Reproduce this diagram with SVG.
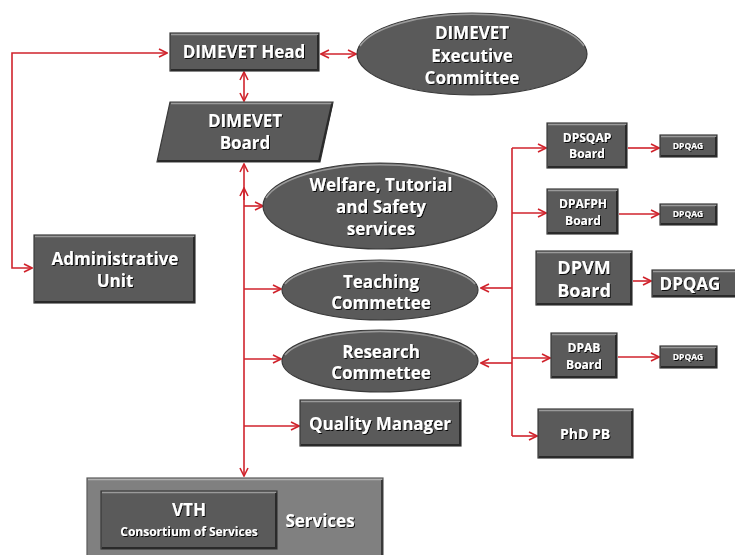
<svg xmlns="http://www.w3.org/2000/svg" width="735" height="555" viewBox="0 0 735 555">
<style>
.box{fill:#5a5a5a;stroke:#3a3a3a;stroke-width:1.2}
.hi{fill:none;stroke:#9a9a9a;stroke-width:1.5}
.lo{fill:none;stroke:#2a2a2a;stroke-width:2}
.t{font-family:"Open Sans","Noto Sans","DejaVu Sans",sans-serif;font-weight:bold;fill:#ffffff;text-anchor:middle;filter:url(#sh)}
.c{fill:none;stroke:#d0232c;stroke-width:1.6}
</style>
<defs>
<filter id="sh" x="-10%" y="-20%" width="130%" height="150%">
<feDropShadow dx="1" dy="1" stdDeviation="0.4" flood-color="#000" flood-opacity="0.9"/>
</filter>
<marker id="a" viewBox="0 0 10 10" refX="9" refY="5" markerWidth="10" markerHeight="10" markerUnits="userSpaceOnUse" orient="auto-start-reverse">
<path d="M1,1 L9,5 L1,9" fill="none" stroke="#d0232c" stroke-width="1.6"/>
</marker>
</defs>

<g id="connectors">
<path class="c" d="M167,53 L12,53 L12,268 L32,268" marker-start="url(#a)" marker-end="url(#a)"/>
<path class="c" d="M321,54 L356,54" marker-start="url(#a)" marker-end="url(#a)"/>
<path class="c" d="M244,72 L244,101" marker-start="url(#a)" marker-end="url(#a)"/>
<path class="c" d="M244,164 L244,476" marker-start="url(#a)" marker-end="url(#a)"/>
<path class="c" d="M244,200 L244,188" marker-end="url(#a)"/>
<path class="c" d="M244,206 L263,206" marker-end="url(#a)"/>
<path class="c" d="M244,289 L281,289" marker-end="url(#a)"/>
<path class="c" d="M244,359 L281,359" marker-end="url(#a)"/>
<path class="c" d="M244,426 L299,426" marker-end="url(#a)"/>
<path class="c" d="M512,148 L512,436"/>
<path class="c" d="M512,148 L546,148" marker-end="url(#a)"/>
<path class="c" d="M512,213 L546,213" marker-end="url(#a)"/>
<path class="c" d="M512,358 L550,358" marker-end="url(#a)"/>
<path class="c" d="M512,436 L537,436" marker-end="url(#a)"/>
<path class="c" d="M512,288 L481,288" marker-end="url(#a)"/>
<path class="c" d="M512,363 L481,363" marker-end="url(#a)"/>
<path class="c" d="M628,148 L659,148" marker-end="url(#a)"/>
<path class="c" d="M619,214 L659,214" marker-end="url(#a)"/>
<path class="c" d="M633,281 L651,281" marker-end="url(#a)"/>
<path class="c" d="M618,357 L659,357" marker-end="url(#a)"/>
</g>

<g id="head">
<rect class="box" x="170" y="33" width="149" height="38"/>
<path class="hi" d="M171,34.5 L318,34.5"/>
<path class="lo" d="M318,35 L318,70 L171,70"/>
<text class="t" x="244" y="58" font-size="17">DIMEVET Head</text>
</g>

<g id="executive">
<ellipse cx="472" cy="54" rx="115" ry="41" fill="#5a5a5a" stroke="#3a3a3a" stroke-width="1.2"/>
<path class="hi" d="M360,46 A115,41 0 0 1 584,46"/>
<text class="t" font-size="17"><tspan x="472" y="39">DIMEVET</tspan><tspan x="472" y="62">Executive</tspan><tspan x="472" y="84">Committee</tspan></text>
</g>

<g id="board">
<polygon class="box" points="170,102 333,102 320,162 157,162"/>
<path class="hi" d="M171,103.5 L331,103.5"/>
<path class="lo" d="M332,104 L319,161 L158,161"/>
<text class="t" font-size="17"><tspan x="245" y="127">DIMEVET</tspan><tspan x="245" y="149">Board</tspan></text>
</g>

<g id="welfare">
<ellipse cx="380" cy="206" rx="117" ry="43" fill="#5a5a5a" stroke="#3a3a3a" stroke-width="1.2"/>
<path class="hi" d="M266,198 A117,43 0 0 1 494,198"/>
<text class="t" font-size="17"><tspan x="381" y="191">Welfare, Tutorial</tspan><tspan x="381" y="213">and Safety</tspan><tspan x="381" y="235">services</tspan></text>
</g>

<g id="admin">
<rect class="box" x="34" y="235" width="161" height="68"/>
<path class="hi" d="M35,236.5 L194,236.5"/>
<path class="lo" d="M194,237 L194,302 L35,302"/>
<text class="t" font-size="17"><tspan x="115" y="265">Administrative</tspan><tspan x="115" y="287">Unit</tspan></text>
</g>

<g id="teaching">
<ellipse cx="380" cy="290" rx="98" ry="30" fill="#5a5a5a" stroke="#3a3a3a" stroke-width="1.2"/>
<path class="hi" d="M285,284 A98,30 0 0 1 475,284"/>
<text class="t" font-size="17"><tspan x="381" y="288">Teaching</tspan><tspan x="381" y="309">Commettee</tspan></text>
</g>

<g id="research">
<ellipse cx="380" cy="361" rx="98" ry="31" fill="#5a5a5a" stroke="#3a3a3a" stroke-width="1.2"/>
<path class="hi" d="M285,355 A98,31 0 0 1 475,355"/>
<text class="t" font-size="17"><tspan x="381" y="358">Research</tspan><tspan x="381" y="379">Commettee</tspan></text>
</g>

<g id="quality">
<rect class="box" x="300" y="400" width="161" height="46"/>
<path class="hi" d="M301,401.5 L460,401.5"/>
<path class="lo" d="M460,402 L460,445 L301,445"/>
<text class="t" x="380" y="430" font-size="17">Quality Manager</text>
</g>

<g id="services">
<rect x="87" y="478" width="296" height="80" fill="#808080" stroke="#5a5a5a" stroke-width="1.2"/>
<path d="M88,479.5 L382,479.5" fill="none" stroke="#b0b0b0" stroke-width="1.5"/>
<path d="M382,480 L382,556" fill="none" stroke="#3a3a3a" stroke-width="2"/>
<text class="t" x="320" y="527" font-size="17">Services</text>
</g>

<g id="vth">
<rect class="box" x="101" y="491" width="176" height="58"/>
<path class="hi" d="M102,492.5 L276,492.5"/>
<path class="lo" d="M276,493 L276,548 L102,548"/>
<text class="t" x="189" y="516" font-size="17">VTH</text>
<text class="t" x="189" y="536" font-size="12">Consortium of Services</text>
</g>

<g id="dpsqap">
<rect class="box" x="547" y="123" width="80" height="45"/>
<path class="hi" d="M548,124.5 L626,124.5"/>
<path class="lo" d="M626,125 L626,167 L548,167"/>
<text class="t" font-size="12"><tspan x="587" y="142">DPSQAP</tspan><tspan x="587" y="158">Board</tspan></text>
</g>
<g id="dpqag1">
<rect class="box" x="660" y="135" width="57" height="22"/>
<path class="hi" d="M661,136.5 L716,136.5"/>
<path class="lo" d="M716,137 L716,156 L661,156"/>
<text class="t" x="688" y="149" font-size="8.5">DPQAG</text>
</g>

<g id="dpafph">
<rect class="box" x="547" y="189" width="71" height="45"/>
<path class="hi" d="M548,190.5 L617,190.5"/>
<path class="lo" d="M617,191 L617,233 L548,233"/>
<text class="t" font-size="12"><tspan x="583" y="208">DPAFPH</tspan><tspan x="583" y="225">Board</tspan></text>
</g>
<g id="dpqag2">
<rect class="box" x="660" y="204" width="57" height="21"/>
<path class="hi" d="M661,205.5 L716,205.5"/>
<path class="lo" d="M716,206 L716,224 L661,224"/>
<text class="t" x="688" y="217" font-size="8.5">DPQAG</text>
</g>

<g id="dpvm">
<rect class="box" x="536" y="251" width="96" height="54"/>
<path class="hi" d="M537,252.5 L631,252.5"/>
<path class="lo" d="M631,253 L631,304 L537,304"/>
<text class="t" font-size="18"><tspan x="584" y="274">DPVM</tspan><tspan x="584" y="297">Board</tspan></text>
</g>
<g id="dpqag3">
<rect class="box" x="652" y="270" width="85" height="27"/>
<path class="hi" d="M653,271.5 L736,271.5"/>
<path class="lo" d="M653,296 L736,296"/>
<text class="t" x="690" y="290" font-size="17">DPQAG</text>
</g>

<g id="dpab">
<rect class="box" x="551" y="333" width="66" height="45"/>
<path class="hi" d="M552,334.5 L616,334.5"/>
<path class="lo" d="M616,335 L616,377 L552,377"/>
<text class="t" font-size="12"><tspan x="584" y="352">DPAB</tspan><tspan x="584" y="369">Board</tspan></text>
</g>
<g id="dpqag4">
<rect class="box" x="660" y="346" width="57" height="22"/>
<path class="hi" d="M661,347.5 L716,347.5"/>
<path class="lo" d="M716,348 L716,367 L661,367"/>
<text class="t" x="688" y="360" font-size="8.5">DPQAG</text>
</g>

<g id="phd">
<rect class="box" x="538" y="409" width="95" height="49"/>
<path class="hi" d="M539,410.5 L632,410.5"/>
<path class="lo" d="M632,411 L632,457 L539,457"/>
<text class="t" x="585" y="439" font-size="14">PhD PB</text>
</g>
</svg>
